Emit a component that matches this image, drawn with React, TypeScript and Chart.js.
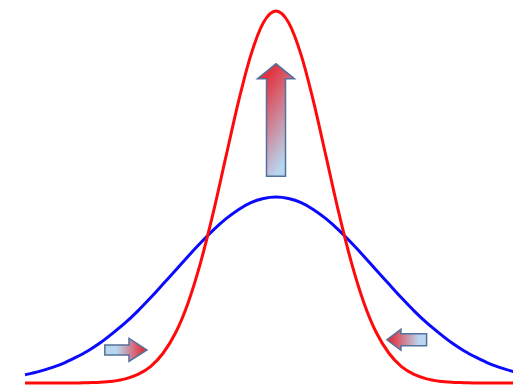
import React, { useEffect, useRef } from "react";
import { Chart, registerables } from "chart.js";

Chart.register(...registerables);

// x positions (standardised units)
const xValues = [
  -5, -4.75, -4.5, -4.25, -4, -3.75, -3.5, -3.25, -3, -2.75, -2.5, -2.25, -2, -1.75, -1.5, -1.25, -1, -0.75, -0.5, -0.25,
  0, 0.25, 0.5, 0.75, 1, 1.25, 1.5, 1.75, 2, 2.25, 2.5, 2.75, 3, 3.25, 3.5, 3.75, 4, 4.25, 4.5, 4.75, 5,
];

// narrow, tall curve (red)
const narrowValues = [
  0, 0, 0, 0, 0, 0.001, 0.002, 0.005, 0.011, 0.023, 0.044, 0.08, 0.135, 0.216, 0.325, 0.458, 0.607, 0.755, 0.882, 0.969,
  1, 0.969, 0.882, 0.755, 0.607, 0.458, 0.325, 0.216, 0.135, 0.08, 0.044, 0.023, 0.011, 0.005, 0.002, 0.001, 0, 0, 0, 0, 0,
];

// wide, flat curve (blue)
const wideValues = [
  0.022, 0.03, 0.04, 0.052, 0.068, 0.086, 0.108, 0.134, 0.162, 0.194, 0.229, 0.266, 0.303, 0.341, 0.377, 0.411, 0.441,
  0.466, 0.485, 0.496, 0.5, 0.496, 0.485, 0.466, 0.441, 0.411, 0.377, 0.341, 0.303, 0.266, 0.229, 0.194, 0.162, 0.134,
  0.108, 0.086, 0.068, 0.052, 0.04, 0.03, 0.022,
];

// arrow annotations (tail -> head, in data units)
const arrows = [
  { tail: { x: 0, y: 0.556 }, head: { x: 0, y: 0.858 } },
  { tail: { x: -3.41, y: 0.089 }, head: { x: -2.57, y: 0.089 } },
  { tail: { x: 3.0, y: 0.116 }, head: { x: 2.21, y: 0.116 } },
];

// arrow styling (pixels, in arrow frame: back = distance behind the head, across = sideways offset)
const arrowStyles = [
  { shaftW: 19, headW: 37, headL: 15, red: { back: 14, across: -10 }, blue: { back: 50, across: 42 } },
  { shaftW: 10, headW: 23, headL: 18, red: { back: 4, across: 0 }, blue: { back: 30, across: 0 } },
  { shaftW: 12, headW: 21, headL: 14, red: { back: 4, across: 0 }, blue: { back: 32, across: 0 } },
];

const arrowPlugin = {
  id: "arrows",
  afterDatasetsDraw(chart: any) {
    const ctx = chart.ctx;
    const sx = chart.scales.x;
    const sy = chart.scales.y;
    arrows.forEach((a, idx) => {
      const st = arrowStyles[idx];
      const tx = sx.getPixelForValue(a.tail.x);
      const ty = sy.getPixelForValue(a.tail.y);
      const hx = sx.getPixelForValue(a.head.x);
      const hy = sy.getPixelForValue(a.head.y);
      const len = Math.hypot(hx - tx, hy - ty);
      const ux = (hx - tx) / len;
      const uy = (hy - ty) / len;
      const nx = -uy;
      const ny = ux;
      const bx = hx - ux * st.headL;
      const by = hy - uy * st.headL;
      const s = st.shaftW / 2;
      const h = st.headW / 2;
      const pts = [
        [tx + nx * s, ty + ny * s],
        [bx + nx * s, by + ny * s],
        [bx + nx * h, by + ny * h],
        [hx, hy],
        [bx - nx * h, by - ny * h],
        [bx - nx * s, by - ny * s],
        [tx - nx * s, ty - ny * s],
      ];
      ctx.save();
      ctx.beginPath();
      pts.forEach((p, i) => (i === 0 ? ctx.moveTo(p[0], p[1]) : ctx.lineTo(p[0], p[1])));
      ctx.closePath();
      const rx = hx - ux * st.red.back + nx * st.red.across;
      const ry = hy - uy * st.red.back + ny * st.red.across;
      const lx = hx - ux * st.blue.back + nx * st.blue.across;
      const ly = hy - uy * st.blue.back + ny * st.blue.across;
      const g = ctx.createLinearGradient(rx, ry, lx, ly);
      g.addColorStop(0, "#e3333f");
      g.addColorStop(1, "#b8d6ef");
      ctx.fillStyle = g;
      ctx.fill();
      ctx.lineWidth = 1.5;
      ctx.strokeStyle = "#54709c";
      ctx.lineJoin = "miter";
      ctx.stroke();
      ctx.restore();
    });
  },
};

export default function App() {
  const ref = useRef<HTMLCanvasElement | null>(null);
  useEffect(() => {
    if (!ref.current) return;
    const chart = new Chart(ref.current, {
      type: "line",
      data: {
        datasets: [
          {
            label: "narrow",
            data: xValues.map((x, i) => ({ x, y: narrowValues[i] })),
            borderColor: "#ff0a0a",
            borderWidth: 3,
            pointRadius: 0,
            cubicInterpolationMode: "monotone",
          },
          {
            label: "wide",
            data: xValues.map((x, i) => ({ x, y: wideValues[i] })),
            borderColor: "#0a0aff",
            borderWidth: 3,
            pointRadius: 0,
            cubicInterpolationMode: "monotone",
          },
        ],
      },
      options: {
        animation: false,
        responsive: true,
        maintainAspectRatio: false,
        layout: { padding: 0 },
        plugins: { legend: { display: false }, tooltip: { enabled: false } },
        scales: {
          x: { type: "linear", min: -5.498, max: 4.721, display: false },
          y: { type: "linear", min: -0.00806, max: 1.0296, display: false },
        },
      },
      plugins: [arrowPlugin],
    });
    return () => chart.destroy();
  }, []);
  return (
    <div style={{ position: "fixed", left: 0, top: 0, width: 513, height: 386, background: "#fff" }}>
      <canvas ref={ref} />
    </div>
  );
}
